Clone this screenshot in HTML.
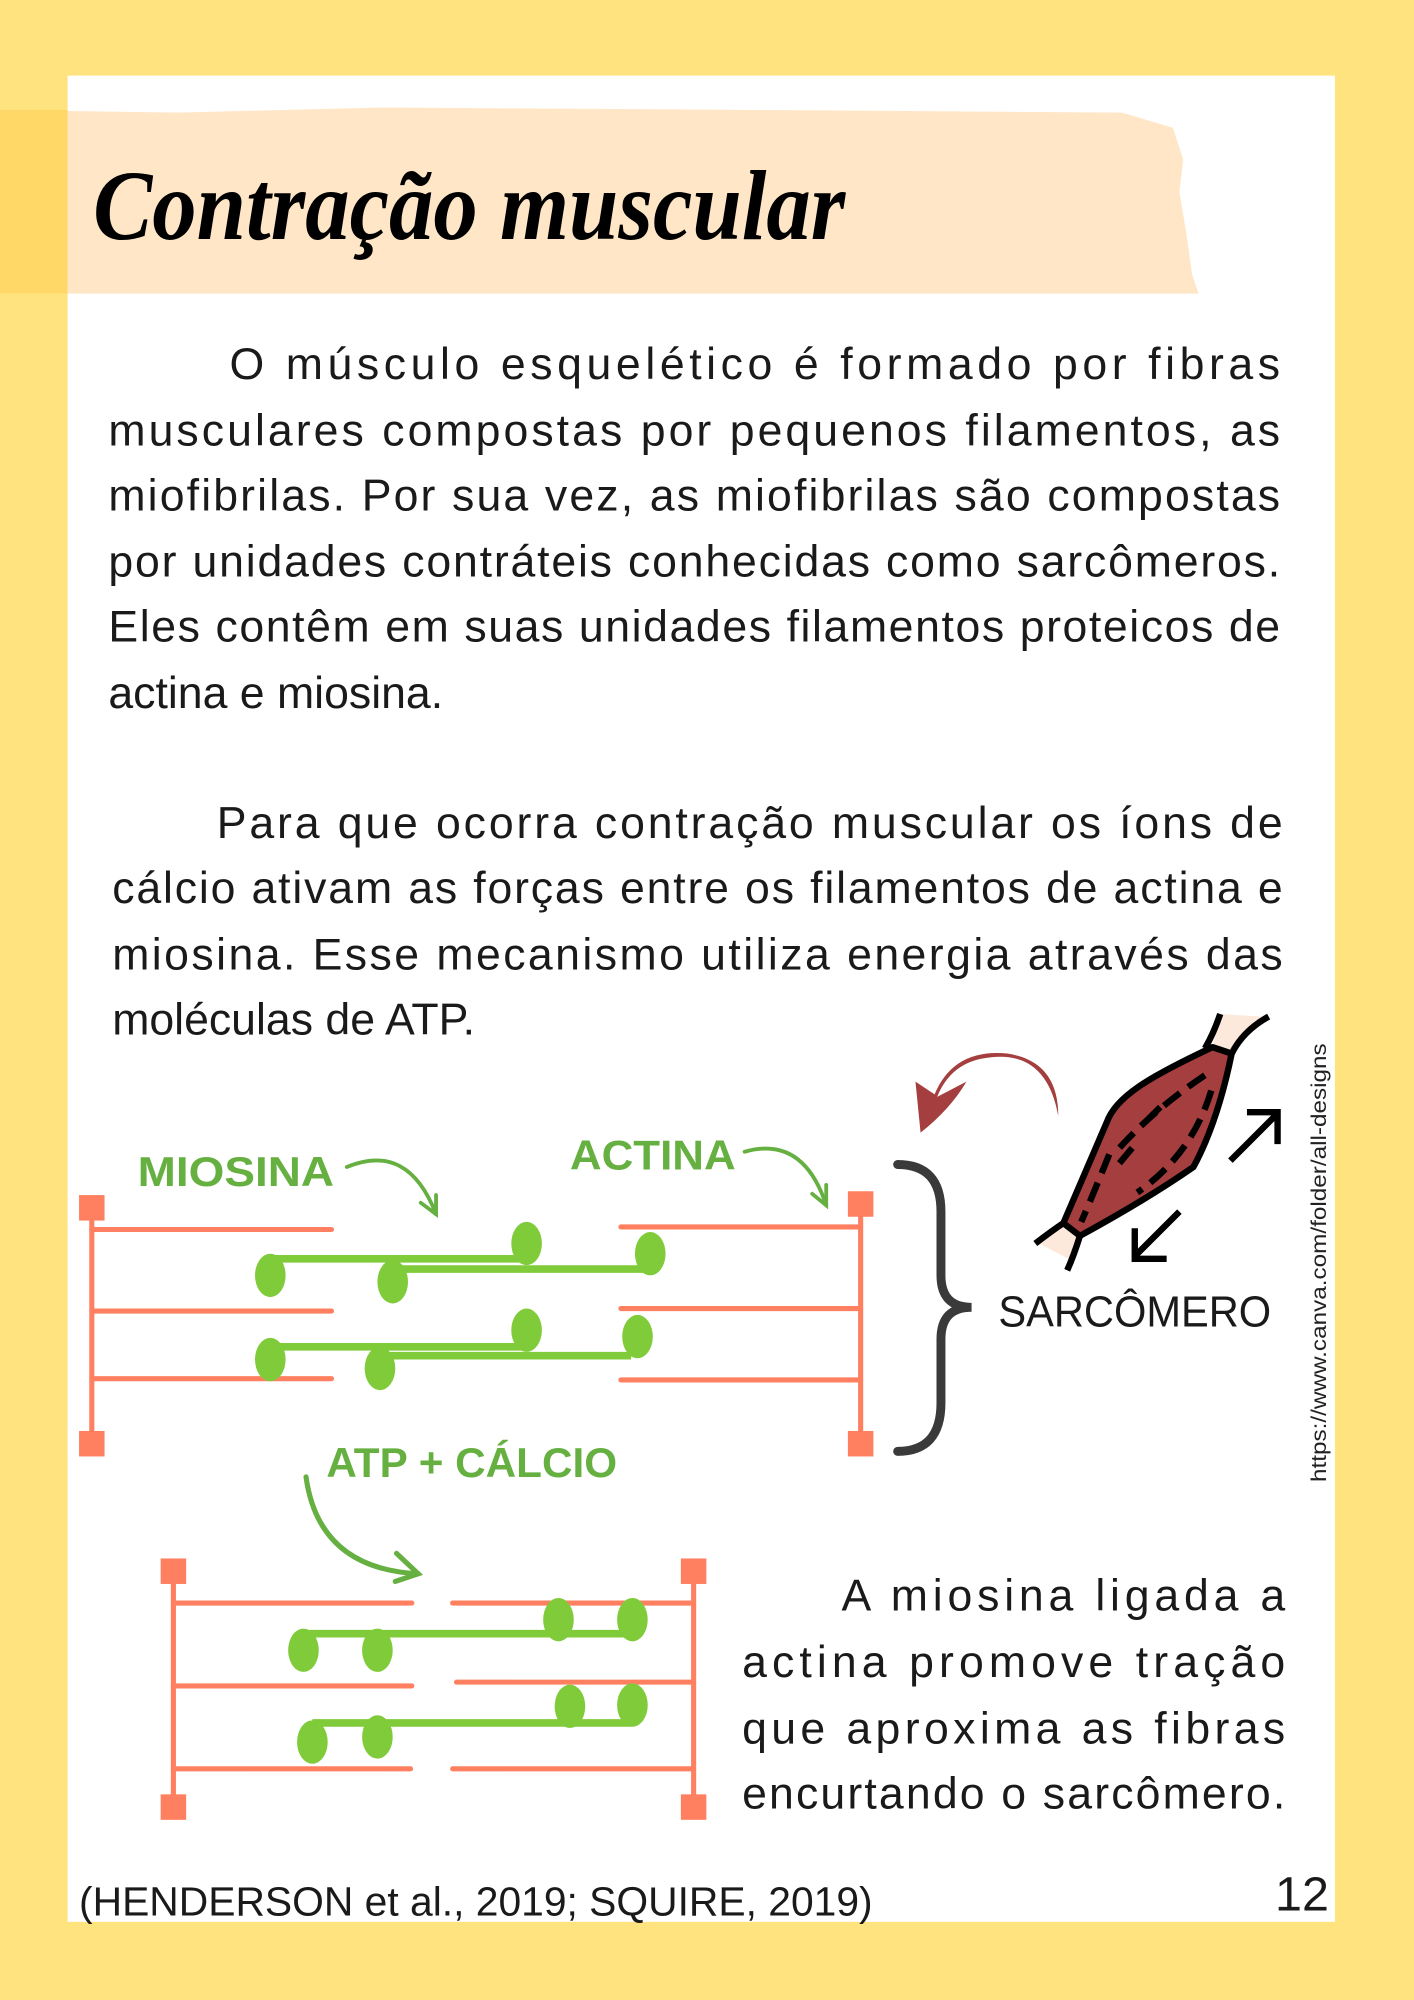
<!DOCTYPE html>
<html><head><meta charset="utf-8"><style>
html,body{margin:0;padding:0;background:#FFE37E;}
svg{display:block;}
.t{font-family:"Liberation Sans",sans-serif;font-size:35px;fill:#1a1a1a;font-weight:300;}
.g{font-family:"Liberation Sans",sans-serif;font-weight:bold;fill:#66B042;font-size:33px;}
</style></head><body>
<svg width="1414" height="2000" viewBox="0 0 1109 1568" xmlns="http://www.w3.org/2000/svg">
<rect x="0" y="0" width="1109" height="1568" fill="#FFE37E"/>
<rect x="53" y="59" width="994" height="1448" fill="#ffffff"/>
<path d="M0 86 L140 88 L300 84 L600 86 L880 88 L920 100 L928 125 L925 150 L930 180 L935 215 L940 230 L0 230 Z" fill="#FFE6C7"/>
<rect x="0" y="86" width="53" height="144" fill="#FFD868"/>
<text x="73" y="187" font-family="Liberation Serif, serif" font-style="italic" font-weight="bold" font-size="78" textLength="590" lengthAdjust="spacingAndGlyphs" fill="#000">Contração muscular</text>
<g class="t">
<text x="180" y="297" textLength="824" lengthAdjust="spacing">O músculo esquelético é formado por fibras</text>
<text x="85" y="349" textLength="919" lengthAdjust="spacing">musculares compostas por pequenos filamentos, as</text>
<text x="85" y="400" textLength="919" lengthAdjust="spacing">miofibrilas. Por sua vez, as miofibrilas são compostas</text>
<text x="85" y="452" textLength="919" lengthAdjust="spacing">por unidades contráteis conhecidas como sarcômeros.</text>
<text x="85" y="503" textLength="919" lengthAdjust="spacing">Eles contêm em suas unidades filamentos proteicos de</text>
<text x="85" y="555">actina e miosina.</text>
<text x="170" y="657" textLength="836" lengthAdjust="spacing">Para que ocorra contração muscular os íons de</text>
<text x="88" y="708" textLength="918" lengthAdjust="spacing">cálcio ativam as forças entre os filamentos de actina e</text>
<text x="88" y="760" textLength="918" lengthAdjust="spacing">miosina. Esse mecanismo utiliza energia através das</text>
<text x="88" y="811">moléculas de ATP.</text>
<text x="660" y="1263" textLength="348" lengthAdjust="spacing">A miosina ligada a</text>
<text x="582" y="1315" textLength="426" lengthAdjust="spacing">actina promove tração</text>
<text x="582" y="1367" textLength="426" lengthAdjust="spacing">que aproxima as fibras</text>
<text x="582" y="1418" textLength="426" lengthAdjust="spacing">encurtando o sarcômero.</text>
<text x="62" y="1502" font-size="32">(HENDERSON et al., 2019; SQUIRE, 2019)</text>
<text x="1000" y="1498" font-size="38">12</text>
<text x="783" y="1040" font-size="34" textLength="214" lengthAdjust="spacingAndGlyphs">SARCÔMERO</text>
</g>
<text transform="translate(1040,1162) rotate(-90)" font-family="Liberation Sans,sans-serif" font-size="17" fill="#222" textLength="344" lengthAdjust="spacingAndGlyphs">https://www.canva.com/folder/all-designs</text>

<g stroke="#FF8060" stroke-width="4" stroke-linecap="round" fill="none">
<line x1="72" y1="945" x2="72" y2="1132"/>
<line x1="72" y1="964" x2="260" y2="964"/>
<line x1="72" y1="1028" x2="260" y2="1028"/>
<line x1="72" y1="1081" x2="260" y2="1081"/>
<line x1="675" y1="945" x2="675" y2="1132"/>
<line x1="487" y1="962" x2="675" y2="962"/>
<line x1="487" y1="1026" x2="675" y2="1026"/>
<line x1="487" y1="1082" x2="675" y2="1082"/>
</g>
<g fill="#FF8060">
<rect x="62" y="937" width="20" height="20"/><rect x="62" y="1122" width="20" height="20"/>
<rect x="665" y="934" width="20" height="20"/><rect x="665" y="1122" width="20" height="20"/>
</g>
<g fill="#7FCB3A" stroke="#7FCB3A">
<line x1="214" y1="987" x2="410" y2="987" stroke-width="6"/>
<ellipse cx="413" cy="975" rx="12" ry="17" stroke="none"/><ellipse cx="212" cy="1000" rx="12" ry="17" stroke="none"/>
<line x1="300" y1="995" x2="505" y2="995" stroke-width="6"/>
<ellipse cx="510" cy="983" rx="12" ry="17" stroke="none"/><ellipse cx="308" cy="1005" rx="12" ry="17" stroke="none"/>
<line x1="214" y1="1056" x2="410" y2="1056" stroke-width="6"/>
<ellipse cx="413" cy="1043" rx="12" ry="17" stroke="none"/><ellipse cx="212" cy="1066" rx="12" ry="17" stroke="none"/>
<line x1="290" y1="1063" x2="495" y2="1063" stroke-width="6"/>
<ellipse cx="500" cy="1048" rx="12" ry="17" stroke="none"/><ellipse cx="298" cy="1073" rx="12" ry="17" stroke="none"/>
</g>
<text class="g" x="108" y="930" textLength="154" lengthAdjust="spacingAndGlyphs">MIOSINA</text>
<text class="g" x="447" y="917" textLength="130" lengthAdjust="spacingAndGlyphs">ACTINA</text>
<g stroke="#66B042" stroke-width="3" fill="none" stroke-linecap="round">
<path d="M272 915 Q320 895 342 952"/><path d="M330 943 L342 952 L342 937"/>
<path d="M584 903 Q630 890 648 945"/><path d="M637 936 L648 945 L648 929"/>
<path d="M240 1158 Q250 1230 328 1234" stroke-width="4"/><path d="M311 1218 L328 1234 L310 1240" stroke-width="4"/>
</g>
<text class="g" x="256" y="1158" textLength="228" lengthAdjust="spacingAndGlyphs">ATP + CÁLCIO</text>
<path d="M704 913 Q738 913 738 950 L738 1000 Q738 1025 762 1025 Q738 1025 738 1050 L738 1100 Q738 1138 704 1138" stroke="#3a3a3a" stroke-width="7" fill="none" stroke-linecap="round"/>
<path d="M830 875 Q820 820 770 830 Q745 835 735 860 L758 848 Q745 870 722 888 L718 848 L733 858 Q748 822 790 826 Q830 832 830 875 Z" fill="#A53E3E"/>
<!-- muscle icon -->
<path d="M957 795 L990 797 L966 826 L951 821 Z" fill="#FDE8DC"/>
<path d="M815 975 L834 959 L847 969 L840 988 Z" fill="#FDE8DC"/>
<path d="M951 821 C 900 845, 875 860, 868 880 L 834 959 L 847 969 Q 900 940 936 915 Q 955 880 966 826 Z" fill="#A53E3E" stroke="#000" stroke-width="5" stroke-linejoin="round"/>
<path d="M957 795 Q952 810 945 822 M995 797 Q975 808 966 826 M812 975 Q825 965 834 959 M847 969 Q842 985 837 996" stroke="#000" stroke-width="5" fill="none"/>
<path d="M945 843 Q905 870 878 900 M950 855 Q935 905 892 935 M870 905 Q858 935 848 958 M910 868 L898 880 M888 900 L878 912" stroke="#000" stroke-width="5" fill="none" stroke-dasharray="16 8"/>
<g stroke="#000" stroke-width="5" fill="none">
<path d="M965 910 L1000 875 M978 872 L1002 872 L1002 897"/>
<path d="M925 950 L890 985 M890 963 L890 987 L915 987"/>
</g>
<g stroke="#FF8060" stroke-width="4" stroke-linecap="round" fill="none">
<line x1="136" y1="1232" x2="136" y2="1417"/>
<line x1="136" y1="1257" x2="323" y2="1257"/>
<line x1="136" y1="1322" x2="323" y2="1322"/>
<line x1="136" y1="1387" x2="322" y2="1387"/>
<line x1="544" y1="1232" x2="544" y2="1417"/>
<line x1="355" y1="1257" x2="544" y2="1257"/>
<line x1="358" y1="1319" x2="544" y2="1319"/>
<line x1="355" y1="1387" x2="544" y2="1387"/>
</g>
<g fill="#FF8060">
<rect x="126" y="1222" width="20" height="20"/><rect x="126" y="1407" width="20" height="20"/>
<rect x="534" y="1222" width="20" height="20"/><rect x="534" y="1407" width="20" height="20"/>
</g>
<g fill="#7FCB3A" stroke="#7FCB3A">
<line x1="240" y1="1281" x2="495" y2="1281" stroke-width="6"/>
<ellipse cx="438" cy="1270" rx="12" ry="17" stroke="none"/><ellipse cx="238" cy="1294" rx="12" ry="17" stroke="none"/>
<ellipse cx="496" cy="1270" rx="12" ry="17" stroke="none"/><ellipse cx="296" cy="1294" rx="12" ry="17" stroke="none"/>
<line x1="245" y1="1351" x2="495" y2="1351" stroke-width="6"/>
<ellipse cx="447" cy="1338" rx="12" ry="17" stroke="none"/><ellipse cx="245" cy="1366" rx="12" ry="17" stroke="none"/>
<ellipse cx="496" cy="1337" rx="12" ry="17" stroke="none"/><ellipse cx="296" cy="1362" rx="12" ry="17" stroke="none"/>
</g>
</svg>
</body></html>
